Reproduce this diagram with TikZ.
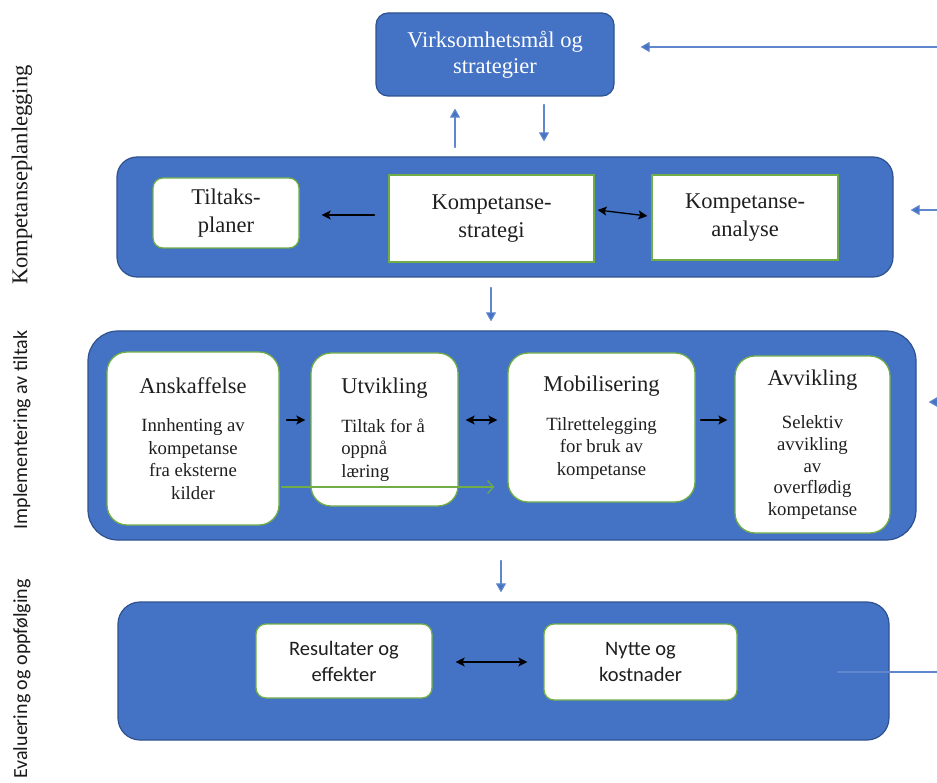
\documentclass[tikz,border=0pt]{standalone}
\usepackage{fontspec}
\setmainfont{Liberation Serif}
\newfontfamily\calibri{Carlito}
\usetikzlibrary{arrows.meta}
\definecolor{accblue}{HTML}{4472C4}
\definecolor{accedge}{HTML}{2F528F}
\definecolor{accgreen}{HTML}{70AD47}
\newcommand\ttl[1]{{\fontsize{22.5}{26}\selectfont #1}}

\begin{document}
\begin{tikzpicture}[x=1pt,y=-1pt,line cap=round,
  band/.style={draw=accedge,fill=accblue,line width=1.2pt,rounded corners=#1,inner sep=0pt},
  band/.default=20pt,
  wbox/.style={draw=accgreen,fill=white,line width=1.3pt,text=black!88,inner sep=2pt,align=center,
    font=\fontsize{22.5}{27.5}\selectfont},
  phase/.style={wbox,rounded corners=20pt,font=\fontsize{18.7}{22.5}\selectfont},
  evbox/.style={wbox,rounded corners=10pt,font=\calibri\fontsize{20.5}{26}\selectfont},
  side/.style={rotate=90,text=black!90},
  bluearr/.style={accblue!85,line width=1.1pt,-{Triangle[length=9pt,width=10pt,fill=accblue]}},
  blkarr/.style={black,line width=1.3pt,-{Stealth[length=9pt,width=9pt,inset=2pt]}},
  blkdbl/.style={black,line width=1.3pt,{Stealth[length=9pt,width=9pt,inset=2pt]}-{Stealth[length=9pt,width=9pt,inset=2pt]}}]
\useasboundingbox (0,0) rectangle (937,783);

\node[side,font=\fontsize{22.6}{26}\selectfont] (lplan) at (22,175) {Kompetanseplanlegging};
\node[side,font=\calibri\fontsize{20}{24}\selectfont] (limpl) at (22,430) {Implementering av tiltak};
\node[side,font=\calibri\fontsize{20}{24}\selectfont] (leval) at (22,679) {Evaluering og oppfølging};

\node[band=12pt,minimum width=238pt,minimum height=83pt,text=white,align=center,
  font=\fontsize{22.5}{26}\selectfont] (vs) at (495,54.5) {Virksomhetsmål og\\strategier};

% planlegging
\node[band,minimum width=776pt,minimum height=120pt] (plan) at (505,217) {};
\node[wbox,rounded corners=10pt,minimum width=146pt,minimum height=70pt] (tilt) at (226,213) {Tiltaks-\\planer};
\node[wbox,minimum width=205pt,minimum height=87pt] (strat) at (491.5,218.5) {Kompetanse-\\strategi};
\node[wbox,minimum width=186pt,minimum height=85pt] (ana) at (745,217.5) {Kompetanse-\\analyse};

% implementering
\node[band=30pt,minimum width=828pt,minimum height=209pt] (impl) at (502,435.5) {};
\node[phase,minimum width=172pt,minimum height=173pt] (ansk) at (193,438.5)
  {\ttl{Anskaffelse}\\[16pt]Innhenting av\\kompetanse\\fra eksterne\\kilder};
\node[phase,align=left,minimum width=147pt,minimum height=153pt] (utv) at (384.5,429.5)
  {\ttl{Utvikling}\\[16pt]Tiltak for å\\oppnå\\læring};
\node[phase,minimum width=187pt,minimum height=149pt] (mob) at (601.5,427.5)
  {\ttl{Mobilisering}\\[16pt]Tilrettelegging\\for bruk av\\kompetanse};
\node[phase,minimum width=155pt,minimum height=177pt,font=\fontsize{18.7}{21.7}\selectfont] (avv) at (812.5,444.5)
  {\ttl{Avvikling}\\[22pt]Selektiv\\avvikling\\av\\overflødig\\kompetanse};

% evaluering
\node[band=22pt,minimum width=771pt,minimum height=138pt] (eval) at (503.5,671) {};
\node[evbox,minimum width=176pt,minimum height=74pt] (res) at (344,661) {Resultater og\\effekter};
\node[evbox,minimum width=193pt,minimum height=76pt] (nyt) at (640.5,662) {Nytte og\\kostnader};

\coordinate (r1) at (937,47);
\coordinate (r2) at (937,210);
\coordinate (r3) at (937,402);
\coordinate (r4) at (937,672);

\draw[bluearr] ([xshift=-50pt,yshift=9pt]plan.north) -- ([xshift=-40pt,yshift=-12pt]vs.south);
\draw[bluearr] ([xshift=49pt,yshift=-8pt]vs.south) -- ([xshift=39pt,yshift=15pt]plan.north);
\draw[bluearr] ([xshift=-14pt,yshift=-10pt]plan.south) -- ([xshift=-11pt,yshift=9pt]impl.north);
\draw[bluearr] ([xshift=-1pt,yshift=-20pt]impl.south) -- ([xshift=-2.5pt,yshift=9pt]eval.north);
\draw[bluearr] (r1) -- ([xshift=26pt,yshift=7.5pt]vs.east);
\draw[bluearr] (r2) -- ([xshift=17pt,yshift=7pt]plan.east);
\draw[bluearr] (r3) -- ([xshift=12pt,yshift=33.5pt]impl.east);
\draw[accblue!85,line width=1.1pt] ([xshift=-52pt,yshift=-1pt]eval.east) -- (r4);

\draw[blkarr] ([xshift=-14pt,yshift=3.5pt]strat.west) -- ([xshift=22pt,yshift=-2pt]tilt.east);
\draw[blkdbl] ([xshift=3pt,yshift=8.5pt]strat.east) -- ([xshift=-4pt,yshift=1.5pt]ana.west);
\draw[blkarr] ([xshift=7pt,yshift=18.5pt]ansk.east) -- ([xshift=-5pt,yshift=9.5pt]utv.west);
\draw[blkdbl] ([xshift=7pt,yshift=9.5pt]utv.east) -- ([xshift=-10pt,yshift=7.5pt]mob.west);
\draw[blkarr] ([xshift=5pt,yshift=7.5pt]mob.east) -- ([xshift=-7pt,yshift=24.5pt]avv.west);
\draw[accgreen,line width=1.2pt,-{Straight Barb[length=6pt,width=13pt]}]
  ([xshift=2pt,yshift=-48.5pt]ansk.east) -- ([xshift=-13pt,yshift=-59.5pt]mob.west);
\draw[blkdbl] ([xshift=23pt,yshift=-1pt]res.east) -- ([xshift=-16pt]nyt.west);
\end{tikzpicture}
\end{document}
